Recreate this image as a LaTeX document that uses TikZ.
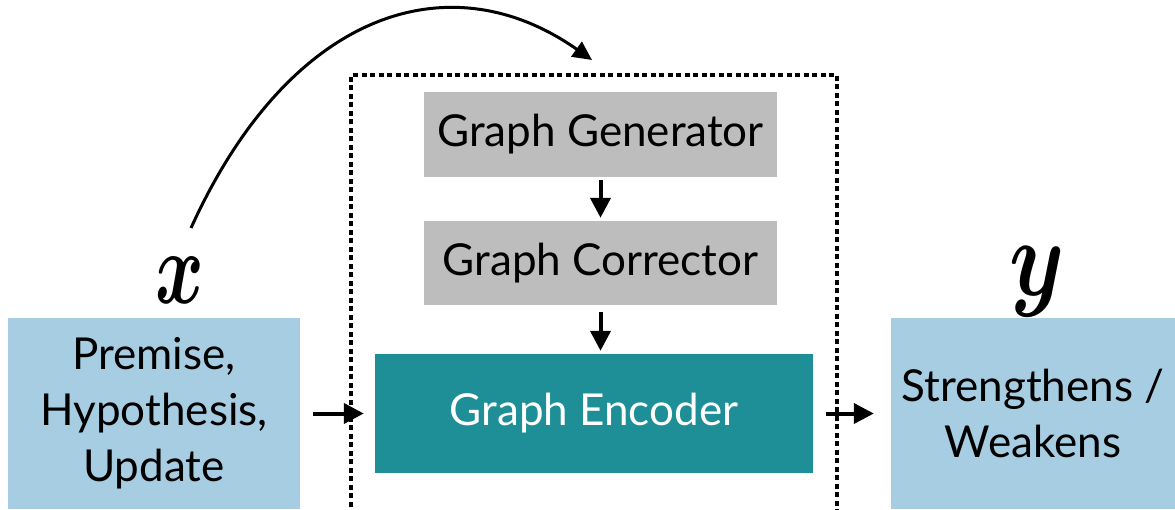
\documentclass[tikz,border=0pt]{standalone}
\usepackage{fontspec}
\usepackage{graphicx}
\usepackage{bm}
\setmainfont{Lato}
\usetikzlibrary{arrows.meta}
\definecolor{inblue}{HTML}{A6CDE1}
\definecolor{modgray}{HTML}{BDBDBD}
\definecolor{encteal}{HTML}{1E8F97}
\tikzset{
  inbox/.style={fill=inblue, align=center, font=\fontsize{44}{56}\selectfont},
  modbox/.style={fill=modgray, minimum width=353, font=\fontsize{44}{50}\selectfont},
  flow/.style={-{Triangle[length=20pt,width=20pt]}, line width=4pt},
  varlbl/.style={inner sep=0pt}
}
\begin{document}
\begin{tikzpicture}[x=1pt,y=-1pt]
\useasboundingbox (0,0) rectangle (1175,509);
% inputs and outputs
\node [inbox, minimum width=292, minimum height=191] (inp) at (154,413.5) {Premise,\\Hypothesis,\\Update};
\node [inbox, minimum width=284, minimum height=191] (out) at (1033,413.5) {Strengthens /\\Weakens};
\node [varlbl] (xl) at (180,280) {\scalebox{7.4}[10.4]{$\bm{x}$}};
\node [varlbl] (yl) at (1037,282) {\scalebox{8.8}[11]{$\bm{y}$}};
% model
\node [modbox, minimum height=85] (gen) at (600.5,134.5) {Graph Generator};
\node [modbox, minimum height=84] (cor) at (600.5,263) {Graph Corrector};
\node [fill=encteal, text=white, minimum width=438, minimum height=119,
       font=\fontsize{44}{50}\selectfont] (enc) at (594,413.5) {Graph Encoder};
\draw [line width=3.5pt, dash pattern=on 5pt off 3.5pt] (351,515) -- (351,75) -- (837,75) -- (837,515);
% connectors
\draw [flow, shorten <=3pt, shorten >=3pt] (gen) -- (cor);
\draw [flow, shorten <=7pt, shorten >=3pt] (cor.south) -- (cor.south |- enc.north);
\draw [flow, shorten <=13pt, shorten >=11pt] (inp) -- (enc);
\draw [flow, shorten <=13pt, shorten >=17pt] (enc) -- (out);
\coordinate (cs) at (191,228);
\coordinate (ce) at (592,60);
\draw [-{Triangle[length=19pt,width=18pt]}, line width=3pt] (cs) .. controls (290,10) and (450,-40) .. (ce);
\end{tikzpicture}
\end{document}
